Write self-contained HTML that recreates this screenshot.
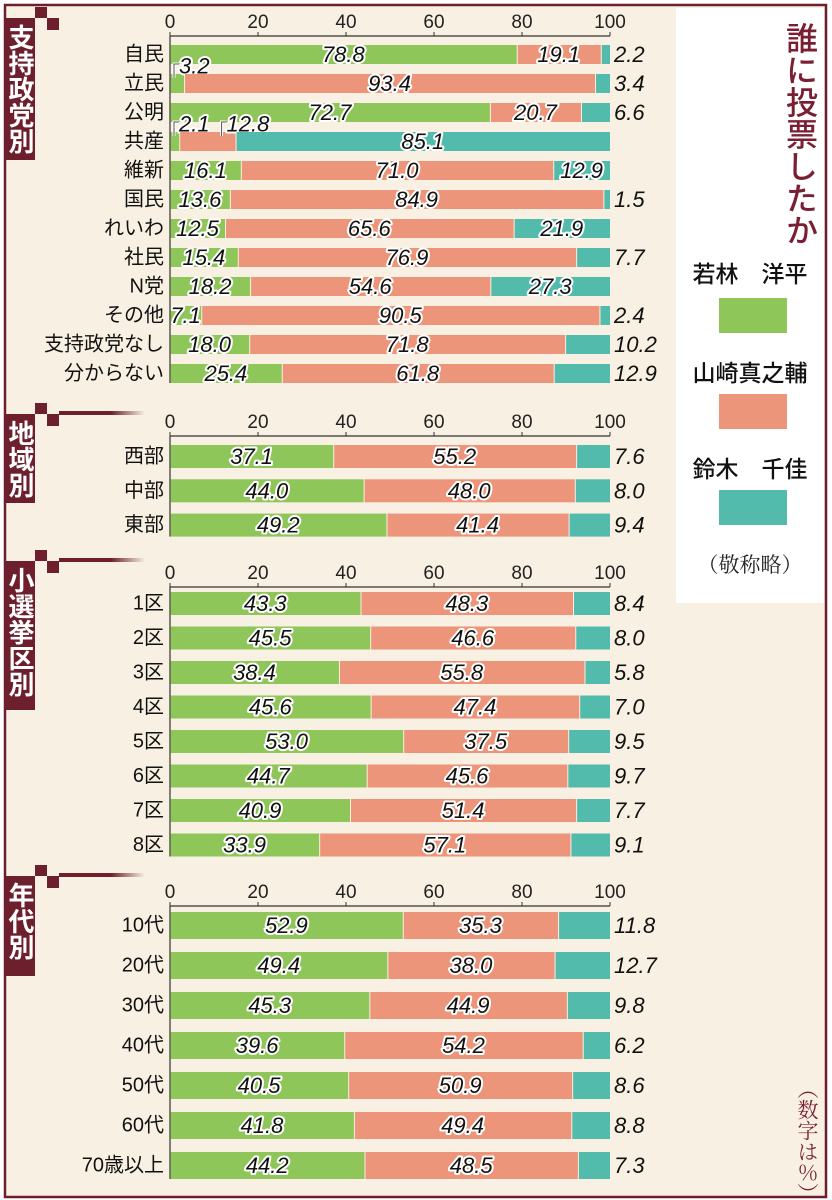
<!DOCTYPE html>
<html><head><meta charset="utf-8">
<style>
html,body{margin:0;padding:0;}
body{width:832px;height:1200px;background:#fff;position:relative;overflow:hidden;font-family:"Liberation Sans","Noto Sans CJK JP",sans-serif;}
svg{position:absolute;left:0;top:0;}
</style></head>
<body>
<svg id="chart" width="832" height="1200" viewBox="0 0 832 1200">
  <rect x="0" y="0" width="832" height="1200" fill="#ffffff"/>
  <rect x="5" y="5" width="821" height="1192" fill="#f8f0e2" stroke="#6d1f2e" stroke-width="2.5"/>
  <rect x="676" y="8" width="148" height="595" fill="#ffffff"/>
  <g id="layer"></g>
  <text x="800" y="22" font-size="32" fill="#7a1f33" style="writing-mode:vertical-rl;font-family:'Liberation Sans','Noto Sans CJK JP',sans-serif;font-weight:500">誰に投票したか</text>
  <text x="750" y="282" font-size="23" text-anchor="middle" fill="#111" font-weight="500">若林　洋平</text>
  <rect x="719" y="298" width="68" height="35" fill="#8ec65a"/>
  <text x="750" y="381" font-size="23" text-anchor="middle" fill="#111" font-weight="500">山崎真之輔</text>
  <rect x="719" y="394" width="68" height="35" fill="#ec957a"/>
  <text x="750" y="477" font-size="23" text-anchor="middle" fill="#111" font-weight="500">鈴木　千佳</text>
  <rect x="719" y="490" width="68" height="35" fill="#52bbac"/>
  <text x="750" y="572" font-size="21" text-anchor="middle" fill="#222" style="font-family:'Noto Serif CJK SC',serif">（敬称略）</text>
  <text x="808" y="1078" font-size="21" fill="#7a1f33" style="writing-mode:vertical-rl;font-family:'Noto Serif CJK SC',serif">（数字は％）</text>
</svg>
<script>
// ---- data ----
const partyCats = ["自民","立民","公明","共産","維新","国民","れいわ","社民","N党","その他","支持政党なし","分からない"];
const partyWakabayashi = [78.8,3.2,72.7,2.1,16.1,13.6,12.5,15.4,18.2,7.1,18.0,25.4];
const partyYamazaki = [19.1,93.4,20.7,12.8,71.0,84.9,65.6,76.9,54.6,90.5,71.8,61.8];
const partySuzuki = [2.2,3.4,6.6,85.1,12.9,1.5,21.9,7.7,27.3,2.4,10.2,12.9];
const regionCats = ["西部","中部","東部"];
const regionWakabayashi = [37.1,44.0,49.2];
const regionYamazaki = [55.2,48.0,41.4];
const regionSuzuki = [7.6,8.0,9.4];
const districtCats = ["1区","2区","3区","4区","5区","6区","7区","8区"];
const districtWakabayashi = [43.3,45.5,38.4,45.6,53.0,44.7,40.9,33.9];
const districtYamazaki = [48.3,46.6,55.8,47.4,37.5,45.6,51.4,57.1];
const districtSuzuki = [8.4,8.0,5.8,7.0,9.5,9.7,7.7,9.1];
const ageCats = ["10代","20代","30代","40代","50代","60代","70歳以上"];
const ageWakabayashi = [52.9,49.4,45.3,39.6,40.5,41.8,44.2];
const ageYamazaki = [35.3,38.0,44.9,54.2,50.9,49.4,48.5];
const ageSuzuki = [11.8,12.7,9.8,6.2,8.6,8.8,7.3];
const tickValues = [0,20,40,60,80,100];

const NS = "http://www.w3.org/2000/svg";
const layer = document.getElementById("layer");
const X0 = 170, SCALE = 4.4;
function xScale(v){ return X0 + v*SCALE; }
const COLORS = ["#8ec65a","#ec957a","#52bbac"];
const SEG_NAMES = ["wakabayashi","yamazaki","suzuki"];

function mk(tag, attrs, parent){
  const e = document.createElementNS(NS, tag);
  for (const k in attrs) e.setAttribute(k, attrs[k]);
  (parent||layer).appendChild(e);
  return e;
}
function valText(x, y, str, anchor, outline, g){
  const t = mk("text", {x:x, y:y, "font-size":22, "font-style":"italic", "text-anchor":anchor, fill:"#111",
    stroke: outline ? "#fff" : "none", "stroke-width": outline ? 4 : 0, "paint-order":"stroke", "stroke-linejoin":"round",
    "dominant-baseline":"central"}, g);
  t.style.fontFamily = "'Liberation Sans',sans-serif";
  t.textContent = str;
  return t;
}

function section(opts){
  const {name, title, boxTop, boxBottom, axisY, barTop, step, barH, cats, a, b, c, tealInside, special} = opts;
  const g = mk("g", {});
  
  
  mk("rect", {x:35, y:boxTop-11, width:12, height:11, fill:"#6d1f2e"}, g);
  mk("rect", {x:47, y:boxTop, width:12, height:12, fill:"#6d1f2e"}, g);
  if (opts.line) {
    mk("rect", {x:59, y:boxTop-3, width:86, height:4, fill:"url(#fade)"}, g);
  }
  const box = mk("rect", {x:5, y:boxTop, width:30, height:boxBottom-boxTop, fill:"#6d1f2e"}, g);
  
  
  const tt = mk("text", {x:20, y:boxTop+6, "font-size":26, fill:"#fff", "font-weight":"bold"}, g);
  tt.style.writingMode = "vertical-rl";
  tt.style.fontFamily = "'Liberation Sans','Noto Sans CJK JP',sans-serif";
  tt.textContent = title;
  const ax = mk("line", {x1:xScale(0), x2:xScale(100), y1:axisY, y2:axisY, stroke:"#333", "stroke-width":1.2}, g);
  
  
  mk("line", {x1:xScale(0), x2:xScale(0), y1:axisY, y2:barTop + step*(cats.length-1) + barH, stroke:"#333", "stroke-width":1.2}, g);
  tickValues.forEach(v=>{
    mk("line", {x1:xScale(v), x2:xScale(v), y1:axisY-4, y2:axisY, stroke:"#333", "stroke-width":1}, g);
    const t = mk("text", {x:xScale(v), y:axisY-8, "font-size":19, "text-anchor":"middle", fill:"#222"}, g);
    
    
    t.textContent = v;
  });
  cats.forEach((cat,i)=>{
    const y = barTop + i*step;
    const cy = y + barH/2;
    const lab = mk("text", {x:164, y:cy, "font-size":20, "text-anchor":"end", fill:"#111", "dominant-baseline":"central"}, g);
    
    
    lab.textContent = cat;
    const vals = [a[i], b[i], c[i]];
    let acc = 0;
    vals.forEach((v,k)=>{
      const x1 = xScale(acc), x2 = (k===2) ? xScale(100) : xScale(acc+v);
      const r = mk("rect", {x:x1 + (k>0?1:0.6), y:y, width:Math.max(1, x2-x1-(k>0?1:0.6)), height:barH, fill:COLORS[k]}, g);
      
      
      const str = v.toFixed(1);
      const mid = (x1+x2)/2;
      const sp = special && special[i] && special[i][k];
      if (sp) {
        const lx = sp === "end" ? x2 - 14 : x1 + 4;
        const d = `M${lx} ${y+4} L${lx} ${y-10} L${lx+5} ${y-10}`;
        mk("path", {d:d, stroke:"#fff", "stroke-width":3, fill:"none"}, g);
        mk("path", {d:d, stroke:"#555", "stroke-width":1, fill:"none"}, g);
        valText(lx+5, y-8, str, "start", true, g);
      } else if (k===2 && !(tealInside && tealInside[i])) {
        valText(614, cy, str, "start", false, g);
      } else {
        valText(mid, cy, str, "middle", true, g);
      }
      acc += v;
    });
  });
}

const defs = mk("defs", {});
const lg = mk("linearGradient", {id:"fade", x1:"0", x2:"1", y1:"0", y2:"0"}, defs);
mk("stop", {offset:"0", "stop-color":"#6d1f2e"}, lg);
mk("stop", {offset:"0.6", "stop-color":"#6d1f2e"}, lg);
mk("stop", {offset:"1", "stop-color":"#6d1f2e", "stop-opacity":"0"}, lg);

section({name:"party", title:"支持政党別", boxTop:18, boxBottom:160, axisY:36, barTop:45, step:29, barH:19,
  cats:partyCats, a:partyWakabayashi, b:partyYamazaki, c:partySuzuki,
  tealInside:[false,false,false,true,true,false,true,false,true,false,false,false],
  special:{1:{0:"start"},3:{0:"start",1:"end"}}, line:false});
section({name:"region", title:"地域別", boxTop:414, boxBottom:503, axisY:436, barTop:445, step:34.3, barH:23,
  cats:regionCats, a:regionWakabayashi, b:regionYamazaki, c:regionSuzuki, line:true});
section({name:"district", title:"小選挙区別", boxTop:561, boxBottom:710, axisY:587, barTop:592, step:34.5, barH:23,
  cats:districtCats, a:districtWakabayashi, b:districtYamazaki, c:districtSuzuki, line:true});
section({name:"age", title:"年代別", boxTop:876, boxBottom:976, axisY:906, barTop:912, step:40, barH:27,
  cats:ageCats, a:ageWakabayashi, b:ageYamazaki, c:ageSuzuki, line:true});
</script>
</body></html>
